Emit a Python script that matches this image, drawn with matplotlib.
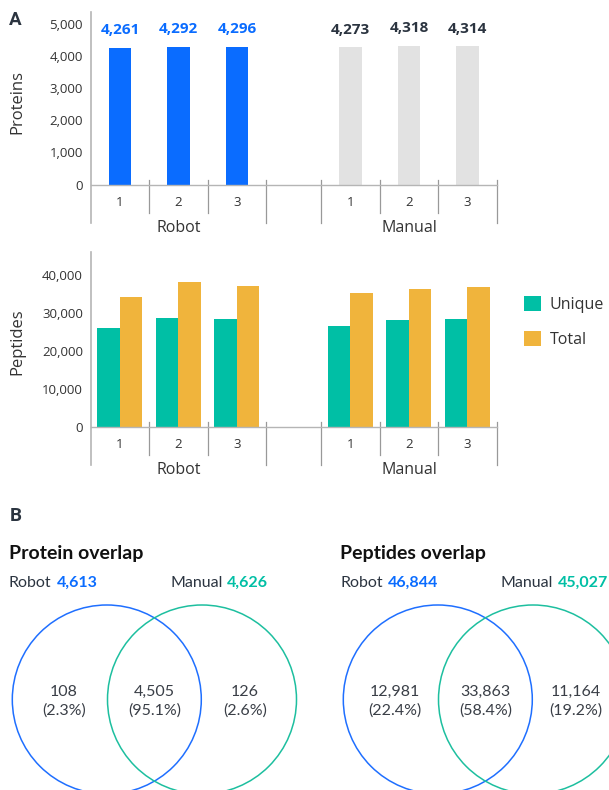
import numpy as np
import matplotlib
matplotlib.use("Agg")
import matplotlib.pyplot as plt
from matplotlib.patches import Circle

# ---- data ----
replicates = ["1", "2", "3"]
groups = ["Robot", "Manual"]
proteins_robot = [4261, 4292, 4296]
proteins_manual = [4273, 4318, 4314]
unique_robot = [26000, 28700, 28400]
unique_manual = [26600, 28100, 28400]
total_robot = [34200, 38200, 37100]
total_manual = [35300, 36300, 36800]

protein_totals = [4613, 4626]          # robot, manual
protein_venn = [108, 4505, 126]        # robot only, shared, manual only
protein_pct = [2.3, 95.1, 2.6]
peptide_totals = [46844, 45027]
peptide_venn = [12981, 33863, 11164]
peptide_pct = [22.4, 58.4, 19.2]

BLUE = "#0A6CFF"
TEAL = "#00BFA5"
ORANGE = "#F0B43C"
GRAY = "#E2E2E2"
DARK = "#2B3440"
TXT = "#333333"
LINE = "#B5B5B5"

W, H = 609, 790
plt.rcParams["font.family"] = ["Open Sans", "DejaVu Sans"]
fig = plt.figure(figsize=(W / 100, H / 100), dpi=100)


def px_axes(l, t, w, h):
    return fig.add_axes([l / W, 1 - (t + h) / H, w / W, h / H])


xr = np.arange(3)
xm = np.arange(3) + 3.94
xall = np.concatenate([xr, xm])
bounds_inner = [0.5, 1.5, 3.94 + 0.5, 3.94 + 1.5]
bounds_outer = [2.5, 3.44, 6.44]


def frame(ax, h, ymax, yticks):
    ax.set_xlim(-0.5, 6.44)
    ax.set_ylim(0, ymax)
    for s in ["top", "right", "left"]:
        ax.spines[s].set_visible(False)
    ax.spines["bottom"].set_color(LINE)
    ax.spines["bottom"].set_linewidth(1.0)
    ax.set_yticks(yticks)
    ax.set_yticklabels([f"{v:,}" for v in yticks])
    ax.tick_params(axis="y", length=0, pad=5.5, labelsize=9.5, labelcolor=TXT)
    ax.set_xticks(xall)
    ax.set_xticklabels(replicates * 2)
    ax.tick_params(axis="x", length=0, pad=8, labelsize=9.5, labelcolor=TXT)
    tr = ax.get_xaxis_transform()
    ax.plot([-0.5, -0.5], [1, -38.5 / h], color=LINE, lw=1.2, transform=tr, clip_on=False)
    for b in bounds_inner:
        ax.plot([b, b], [4.5 / h, -28.5 / h], color="#999999", lw=0.9, transform=tr, clip_on=False)
    for b in bounds_outer:
        ax.plot([b, b], [4.5 / h, -38.5 / h], color="#999999", lw=0.9, transform=tr, clip_on=False)
    for gx, g in zip([1, 4.94], groups):
        ax.text(gx, -43.5 / h, g, transform=tr, ha="center", va="center",
                fontsize=11.5, color=TXT)


# ---- A: proteins ----
ax1 = px_axes(90.7, 12, 406, 172.5)
frame(ax1, 172.5, 5370, [0, 1000, 2000, 3000, 4000, 5000])
bw = 0.39
ax1.bar(xr, proteins_robot, width=bw, color=BLUE)
ax1.bar(xm, proteins_manual, width=bw, color=GRAY)
for x, v in zip(xr, proteins_robot):
    ax1.annotate(f"{v:,}", (x, v), xytext=(0, 12.5), textcoords="offset points",
                 ha="center", va="center", fontsize=11, fontweight="bold", color=BLUE)
for x, v in zip(xm, proteins_manual):
    ax1.annotate(f"{v:,}", (x, v), xytext=(0, 12.5), textcoords="offset points",
                 ha="center", va="center", fontsize=11, fontweight="bold", color=DARK)
ax1.set_ylabel("Proteins", fontsize=12, color=TXT)
ax1.yaxis.set_label_coords(-0.16, (184.5 - 102) / 172.5)

# ---- A: peptides ----
ax2 = px_axes(90.7, 252, 406, 174.7)
frame(ax2, 174.7, 46000, [0, 10000, 20000, 30000, 40000])
pw = 0.385
ax2.bar(xall - pw / 2, unique_robot + unique_manual, width=pw, color=TEAL, label="Unique")
ax2.bar(xall + pw / 2, total_robot + total_manual, width=pw, color=ORANGE, label="Total")
ax2.set_ylabel("Peptides", fontsize=12, color=TXT)
ax2.yaxis.set_label_coords(-0.16, (426.7 - 342) / 174.7)
ax2.legend(loc="upper left", bbox_to_anchor=(524 / W, 1 - 296 / H),
           bbox_transform=fig.transFigure, frameon=False, fontsize=11.5,
           handlelength=1.05, handleheight=1.05, handletextpad=0.55,
           labelspacing=1.15, borderpad=0, borderaxespad=0, labelcolor=TXT)

fig.text(9 / W, 1 - 20 / H, "A", fontsize=13.5, fontweight="bold", color=DARK,
         va="center", ha="left", family=["Roboto", "DejaVu Sans"])

# ---- B: venn ----
axv = fig.add_axes([0, 0, 1, 1], zorder=-1)
axv.set_xlim(0, W)
axv.set_ylim(H, 0)
axv.axis("off")
axv.text(10, 516, "B", fontsize=13.5, fontweight="bold", color=DARK, va="center",
         family=["Roboto", "DejaVu Sans"])

vfont = ["Lato", "DejaVu Sans"]
r = 94.5
cy = 699.5
panels = [
    (9, 106.8, "Protein overlap", protein_totals, protein_venn, protein_pct, 170),
    (340.5, 437.8, "Peptides overlap", peptide_totals, peptide_venn, peptide_pct, 501),
]
for x0, cx, title, totals, counts, pcts, xman in panels:
    axv.text(x0, 553, title, fontsize=14, fontweight="bold", color="#111111",
             va="center", family=vfont)
    for lx, name, tot, col in [(x0, "Robot", totals[0], BLUE), (xman, "Manual", totals[1], TEAL)]:
        t = axv.text(lx, 583, name, fontsize=11.5, color=DARK, va="center", family=vfont)
        axv.annotate(f"{tot:,}", xy=(1, 0.5), xycoords=t, xytext=(3.5, 0),
                     textcoords="offset points", va="center", ha="left",
                     fontsize=11.5, fontweight="bold", color=col, family=vfont)
    cx2 = cx + 95.2
    axv.add_patch(Circle((cx, cy), r, fill=False, ec="#1F6FFF", lw=1.1, clip_on=False))
    axv.add_patch(Circle((cx2, cy), r, fill=False, ec="#1DBF9F", lw=1.1, clip_on=False))
    for tx, c, p in zip([cx - 43, (cx + cx2) / 2, cx2 + 43], counts, pcts):
        axv.text(tx, cy - 8, f"{c:,}", ha="center", va="center", fontsize=11.5,
                 color="#3A3F47", family=vfont)
        axv.text(tx, cy + 11, f"({p}%)", ha="center", va="center", fontsize=11.5,
                 color="#3A3F47", family=vfont)

fig.savefig("out.png", dpi=100)
